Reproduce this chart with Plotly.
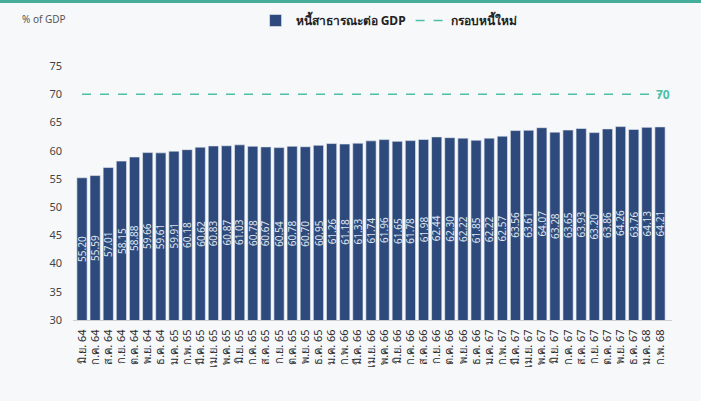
import plotly.graph_objects as go

months = ["มิ.ย. 64", "ก.ค. 64", "ส.ค. 64", "ก.ย. 64", "ต.ค. 64", "พ.ย. 64", "ธ.ค. 64",
          "ม.ค. 65", "ก.พ. 65", "มี.ค. 65", "เม.ย. 65", "พ.ค. 65", "มิ.ย. 65", "ก.ค. 65",
          "ส.ค. 65", "ก.ย. 65", "ต.ค. 65", "พ.ย. 65", "ธ.ค. 65",
          "ม.ค. 66", "ก.พ. 66", "มี.ค. 66", "เม.ย. 66", "พ.ค. 66", "มิ.ย. 66", "ก.ค. 66",
          "ส.ค. 66", "ก.ย. 66", "ต.ค. 66", "พ.ย. 66", "ธ.ค. 66",
          "ม.ค. 67", "ก.พ. 67", "มี.ค. 67", "เม.ย. 67", "พ.ค. 67", "มิ.ย. 67", "ก.ค. 67",
          "ส.ค. 67", "ก.ย. 67", "ต.ค. 67", "พ.ย. 67", "ธ.ค. 67",
          "ม.ค. 68", "ก.พ. 68"]
debt_to_gdp = [55.20, 55.59, 57.01, 58.15, 58.88, 59.66, 59.61, 59.91, 60.18, 60.62,
               60.83, 60.87, 61.03, 60.78, 60.67, 60.54, 60.78, 60.70, 60.95, 61.26,
               61.18, 61.33, 61.74, 61.96, 61.65, 61.78, 61.98, 62.44, 62.30, 62.22,
               61.85, 62.22, 62.57, 63.56, 63.61, 64.07, 63.28, 63.65, 63.93, 63.20,
               63.86, 64.26, 63.76, 64.13, 64.21]
debt_ceiling = [70] * len(months)
y_min, y_max = 30, 75

NAVY = "#2e4a7c"
TEAL = "#4cbfa6"

W, H = 701, 401
ML, MR, MT, MB = 73, 29, 66, 81
PH = H - MT - MB
PW = W - ML - MR

fig = go.Figure()
fig.add_trace(go.Bar(
    x=months, y=debt_to_gdp, name="<b>หนี้สาธารณะต่อ GDP</b>",
    marker=dict(color=NAVY, line=dict(color="#e8ecf2", width=0.6)),
))
fig.add_trace(go.Scatter(
    x=months, y=debt_ceiling, name="<b>กรอบหนี้ใหม่</b>", mode="lines",
    line=dict(color=TEAL, dash="dash", width=1.6),
))
# value labels, rotated, centred in each bar
for m, v in zip(months, debt_to_gdp):
    fig.add_annotation(x=m, y=(y_min + v) / 2, text=f"{v:.2f}", showarrow=False,
                       textangle=-90, font=dict(color="#dfe5ef", size=10, family="Noto Sans"))
fig.add_annotation(x=months[-1], y=debt_ceiling[-1], text="<b>70</b>", showarrow=False,
                   xanchor="left", xshift=-6, font=dict(color=TEAL, size=12, family="Noto Sans"))
fig.add_annotation(x=(20 - ML) / PW, y=1 + (MT - 10) / PH, xref="paper", yref="paper",
                   text="% of GDP", showarrow=False, xanchor="left", yanchor="top",
                   font=dict(color="#555555", size=10, family="Noto Sans"))
fig.add_shape(type="rect", xref="paper", yref="paper", x0=-ML / PW, x1=1 + MR / PW,
              y0=1 + (MT - 3) / PH, y1=1 + MT / PH,
              fillcolor="#45ad9a", line=dict(width=0), layer="above")

fig.update_layout(
    width=W, height=H,
    margin=dict(l=ML, r=MR, t=MT, b=MB),
    paper_bgcolor="#f7f8fa", plot_bgcolor="rgba(0,0,0,0)",
    bargap=0.22,
    font=dict(family="Noto Sans", color="#333333"),
    legend=dict(orientation="h", x=0.555, y=0.985, xref="container", yref="container",
                xanchor="center", yanchor="top",
                font=dict(size=12, color="#222222"), bgcolor="rgba(0,0,0,0)",
                traceorder="normal"),
    showlegend=True,
    xaxis=dict(tickangle=-90, tickfont=dict(size=11, color="#2a2a2a"), showgrid=False,
               showline=True, linecolor="#cfcfcf", linewidth=1, ticks="",
               tickmode="array", tickvals=months, ticktext=months,
               ticklabelstandoff=4),
    yaxis=dict(range=[y_min, y_max], tickvals=[30, 35, 40, 45, 50, 55, 60, 65, 70, 75],
               showgrid=False, zeroline=False, tickfont=dict(size=11, color="#444444"),
               ticklabelstandoff=10),
)
fig.write_html("out.html", config={"displayModeBar": False},
               post_script="document.body.style.margin='0';")
